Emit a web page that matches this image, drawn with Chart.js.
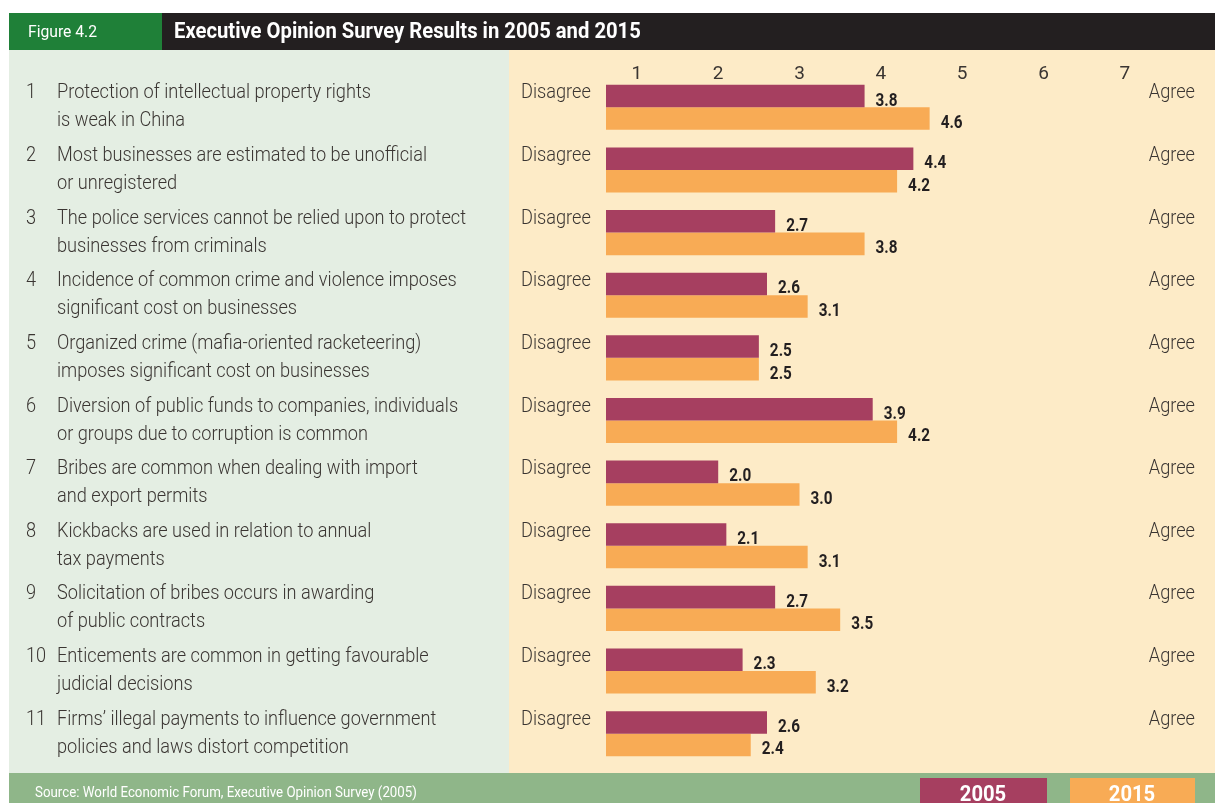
<!DOCTYPE html>
<html>
<head>
<meta charset="utf-8">
<script src="https://cdn.jsdelivr.net/npm/chart.js@4"></script>
<style>
  html, body { margin: 0; padding: 0; background: #fff; }
  #wrap { position: relative; width: 1215px; height: 803px; }
</style>
</head>
<body>
<div id="wrap"><canvas id="surveyChart" width="1215" height="803"></canvas></div>
<script>
// survey statements (two lines each)
const statements = [
  ["Protection of intellectual property rights", "is weak in China"],
  ["Most businesses are estimated to be unofficial", "or unregistered"],
  ["The police services cannot be relied upon to protect", "businesses from criminals"],
  ["Incidence of common crime and violence imposes", "significant cost on businesses"],
  ["Organized crime (mafia-oriented racketeering)", "imposes significant cost on businesses"],
  ["Diversion of public funds to companies, individuals", "or groups due to corruption is common"],
  ["Bribes are common when dealing with import", "and export permits"],
  ["Kickbacks are used in relation to annual", "tax payments"],
  ["Solicitation of bribes occurs in awarding", "of public contracts"],
  ["Enticements are common in getting favourable", "judicial decisions"],
  ["Firms\u2019 illegal payments to influence government", "policies and laws distort competition"]
];
const values2005 = [3.8, 4.4, 2.7, 2.6, 2.5, 3.9, 2.0, 2.1, 2.7, 2.3, 2.6];
const values2015 = [4.6, 4.2, 3.8, 3.1, 2.5, 4.2, 3.0, 3.1, 3.5, 3.2, 2.4];
const scaleTicks = [1, 2, 3, 4, 5, 6, 7];

const MAGENTA = '#a63f60';
const ORANGE = '#f8ab55';
const TEXT = '#3a3532';

// draw text squeezed horizontally to mimic a condensed face
function narrowText(c, text, x, y, k) {
  c.save();
  c.scale(k, 1);
  c.fillText(text, x / k, y);
  c.restore();
}

// panels, header and footer
const backdrop = {
  id: 'backdrop',
  beforeDraw(chart) {
    const c = chart.ctx;
    c.save();
    c.fillStyle = '#ffffff';
    c.fillRect(0, 0, 1215, 803);
    c.fillStyle = '#e4eee3';
    c.fillRect(9, 50, 500, 723);
    c.fillStyle = '#fdebc7';
    c.fillRect(509, 50, 706, 723);
    // header
    c.fillStyle = '#231f20';
    c.fillRect(162, 13, 1053, 37);
    c.fillStyle = '#1f8038';
    c.fillRect(9, 13, 153, 37);
    c.fillStyle = '#ffffff';
    c.textBaseline = 'middle';
    c.font = '16px Roboto';
    narrowText(c, 'Figure 4.2', 28, 33, 0.98);
    c.font = 'bold 22px Roboto';
    narrowText(c, 'Executive Opinion Survey Results in 2005 and 2015', 174, 32, 0.92);
    // footer
    c.fillStyle = '#8fb689';
    c.fillRect(9, 773, 1206, 30);
    c.fillStyle = '#ffffff';
    c.font = '14px Roboto';
    narrowText(c, 'Source: World Economic Forum, Executive Opinion Survey (2005)', 35, 793, 0.95);
    // legend boxes
    c.fillStyle = MAGENTA;
    c.fillRect(920, 778, 127, 25);
    c.fillStyle = ORANGE;
    c.fillRect(1070, 778, 125, 25);
    c.fillStyle = '#ffffff';
    c.font = 'bold 22px Roboto';
    c.textAlign = 'center';
    narrowText(c, '2005', 983, 795, 0.92);
    narrowText(c, '2015', 1132, 795, 0.92);
    c.restore();
  }
};

// statement text, Disagree / Agree and value labels
const annotations = {
  id: 'annotations',
  afterDatasetsDraw(chart) {
    const c = chart.ctx;
    const y = chart.scales.y;
    c.save();
    c.textBaseline = 'middle';
    c.font = '300 20px Roboto';
    const k = 314 / c.measureText(statements[0][0]).width;
    c.fillStyle = TEXT;
    statements.forEach((lines, i) => {
      const cy = y.getPixelForValue(i) + 3;
      c.textAlign = 'left';
      narrowText(c, String(i + 1), 26, cy - 17, k);
      narrowText(c, lines[0], 57, cy - 17, k);
      narrowText(c, lines[1], 57, cy + 11, k);
      narrowText(c, 'Disagree', 521, cy - 17, k);
      c.textAlign = 'right';
      narrowText(c, 'Agree', 1195, cy - 17, k);
    });
    c.fillStyle = '#231f20';
    c.font = 'bold 18px Roboto';
    c.textAlign = 'left';
    chart.data.datasets.forEach((ds, di) => {
      chart.getDatasetMeta(di).data.forEach((bar, i) => {
        narrowText(c, ds.data[i].toFixed(1), bar.x + 11, bar.y + 5, 0.85);
      });
    });
    c.restore();
  }
};

new Chart(document.getElementById('surveyChart'), {
  type: 'bar',
  data: {
    labels: statements.map((s, i) => String(i + 1)),
    datasets: [
      { label: '2005', data: values2005, backgroundColor: MAGENTA },
      { label: '2015', data: values2015, backgroundColor: ORANGE }
    ]
  },
  options: {
    indexAxis: 'y',
    responsive: false,
    animation: false,
    layout: { padding: { left: 606, right: 52, top: 48, bottom: 38 } },
    datasets: { bar: { barPercentage: 1, categoryPercentage: 0.72 } },
    plugins: { legend: { display: false }, tooltip: { enabled: false } },
    scales: {
      x: {
        position: 'top',
        min: 0.62,
        max: 7.47,
        afterBuildTicks: s => { s.ticks = scaleTicks.map(v => ({ value: v })); },
        afterFit: s => { s.height = 28; },
        grid: { display: false, drawTicks: false },
        border: { display: false },
        ticks: { color: TEXT, font: { size: 19, family: 'Roboto' }, mirror: true, padding: -13 }
      },
      y: { display: false }
    }
  },
  plugins: [backdrop, annotations]
});
</script>
</body>
</html>
